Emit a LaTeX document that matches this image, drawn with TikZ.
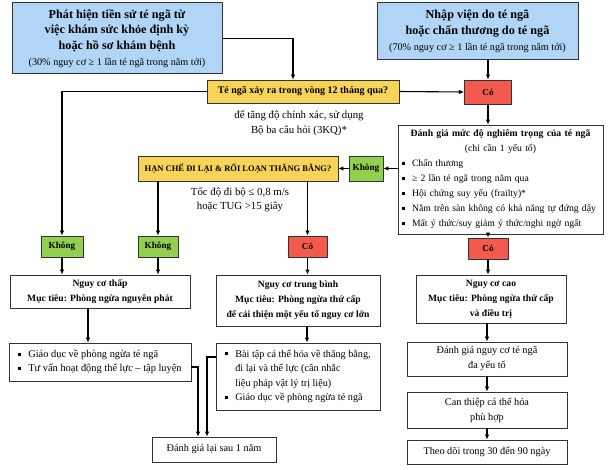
\documentclass[tikz,border=0pt]{standalone}
\usepackage{fontspec}
\setmainfont{Liberation Serif}
\usetikzlibrary{arrows.meta,calc}
\definecolor{blueb}{HTML}{B0D5F7}
\definecolor{yel}{HTML}{F7D458}
\definecolor{redb}{HTML}{F3594D}
\definecolor{grn}{HTML}{93D050}
\definecolor{edge}{HTML}{333333}
\newcommand{\bul}{\makebox[10pt][l]{\rule[2pt]{3pt}{3pt}}}
\newcommand{\ind}{\hspace*{10pt}}
\newcommand{\subline}[1]{{\mdseries\fontsize{10.2}{13}\selectfont #1}}
\tikzset{
  bx/.style={draw=edge, line width=0.8pt, fill=white, inner sep=1pt, align=center, font=\fontsize{10.3}{15}\selectfont},
  bluebox/.style={bx, fill=blueb, line width=1pt, font=\fontsize{12.2}{15.8}\selectfont\bfseries},
  yelbox/.style={bx, fill=yel},
  redbox/.style={bx, fill=redb, font=\fontsize{9.2}{11}\selectfont\bfseries},
  grnbox/.style={bx, fill=grn, font=\fontsize{9.2}{11}\selectfont\bfseries},
  plain/.style={inner sep=0pt, align=center, font=\fontsize{10.8}{14.5}\selectfont},
  riskbox/.style={bx, font=\fontsize{9.6}{15}\selectfont\bfseries},
  arr/.style={line width=1.1pt, draw=black, -{Latex[length=5pt,width=4.5pt]}}
}
\begin{document}
\begin{tikzpicture}[x=1pt,y=-1pt]
\useasboundingbox[fill=white] (0,0) rectangle (610,470);

\node[bluebox, minimum width=210, minimum height=71] (blueL) at (117,38.5)
 {Phát hiện tiền sử té ngã từ\\việc khám sức khỏe định kỳ\\hoặc hồ sơ khám bệnh\\\subline{(30\% nguy cơ ≥ 1 lần té ngã trong năm tới)}};
\node[bluebox, minimum width=201, minimum height=57] (blueR) at (477.5,31.5)
 {Nhập viện do té ngã\\hoặc chấn thương do té ngã\\\subline{(70\% nguy cơ ≥ 1 lần té ngã trong năm tới)}};

\node[yelbox, minimum width=192, minimum height=23, font=\fontsize{10}{11}\selectfont\bfseries] (yellow1) at (303,91.5) {Té ngã xảy ra trong vòng 12 tháng qua?};
\node[redbox, minimum width=47, minimum height=24] (red1) at (488,92) {Có};
\node[plain] (txt1) at (299,123) {để tăng độ chính xác, sử dụng\\Bộ ba câu hỏi (3KQ)*};

\node[bx, minimum width=205, minimum height=109, text width=197, align=left, font=\fontsize{9.7}{15}\selectfont] (assess) at (500.5,179.5)
 {{\centering\textbf{Đánh giá mức độ nghiêm trọng của té ngã}\\(chỉ cần 1 yếu tố)\par}
 \bul Chấn thương\\
 \bul ≥ 2 lần té ngã trong năm qua\\
 \bul Hội chứng suy yếu (frailty)*\\
 \bul Nằm trên sàn không có khả năng tự đứng dậy\\
 \bul Mất ý thức/suy giảm ý thức/nghi ngờ ngất};

\node[grnbox, minimum width=34, minimum height=25] (k1) at (366,168.5) {Không};
\node[yelbox, minimum width=200, minimum height=25, font=\fontsize{8.5}{10}\selectfont\bfseries] (yellow2) at (238,168.5) {HẠN CHẾ ĐI LẠI \& RỐI LOẠN THĂNG BẰNG?};
\node[plain] (txt2) at (240,200) {Tốc độ đi bộ ≤ 0,8 m/s\\hoặc TUG >15 giây};

\node[grnbox, minimum width=42, minimum height=21] (k2) at (62,246.5) {Không};
\node[grnbox, minimum width=40, minimum height=21] (k3) at (158,246.5) {Không};
\node[redbox, minimum width=39, minimum height=21] (red2) at (307.5,246.5) {Có};
\node[redbox, minimum width=40, minimum height=21] (red3) at (488,248.5) {Có};

\node[riskbox, minimum width=180, minimum height=33] (low) at (100,291.5) {Nguy cơ thấp\\Mục tiêu: Phòng ngừa nguyên phát};
\node[riskbox, minimum width=164, minimum height=51] (mid) at (298,300.5) {Nguy cơ trung bình\\Mục tiêu: Phòng ngừa thứ cấp\\để cải thiện một yếu tố nguy cơ lớn};
\node[riskbox, minimum width=150, minimum height=48] (high) at (491,299) {Nguy cơ cao\\Mục tiêu: Phòng ngừa thứ cấp\\và điều trị};

\node[bx, minimum width=182, minimum height=38, align=left, font=\fontsize{10.4}{14}\selectfont] (lowB) at (100,362)
 {\bul Giáo dục về phòng ngừa té ngã\\\bul Tư vấn hoạt động thể lực – tập luyện};
\node[bx, minimum width=164, minimum height=67, align=left, font=\fontsize{10.2}{14.5}\selectfont] (midB) at (298,376.5)
 {\bul Bài tập cá thể hóa về thăng bằng,\\\ind đi lại và thể lực (cân nhắc\\\ind liệu pháp vật lý trị liệu)\\\bul Giáo dục về phòng ngừa té ngã};
\node[bx, minimum width=124, minimum height=25] (reeval) at (214,449.5) {Đánh giá lại sau 1 năm};

\node[bx, minimum width=160, minimum height=34] (r1) at (487,359) {Đánh giá nguy cơ té ngã\\đa yếu tố};
\node[bx, minimum width=160, minimum height=36] (r2) at (487,410) {Can thiệp cá thể hóa\\phù hợp};
\node[bx, minimum width=160, minimum height=24] (r3) at (487,452) {Theo dõi trong 30 đến 90 ngày};

% connectors
\draw[arr] (blueL.east) -| ([xshift=-10pt]yellow1.north);
\draw[arr] (blueR.south -| red1.north) -- (red1.north);
\draw[arr] (yellow1.east) -- (red1.west);
\draw[arr] (yellow1.west) -| (k2.north);
\draw[arr] (red1.south) -- (assess.north -| red1.south);
\draw[arr] (assess.west |- k1.east) -- (k1.east);
\draw[arr] (k1.west) -- (yellow2.east);
\draw[arr] (yellow2.south -| k3.north) -- (k3.north);
\draw[arr] (yellow2.south -| red2.north) -- (red2.north);
\draw[arr] (assess.south -| red3.north) -- (red3.north);
\draw[arr] (red3.south) -- (high.north -| red3.south);
\draw[arr] (high.south -| r1.north) -- (r1.north);
\draw[arr] (r1.south) -- (r2.north);
\draw[arr] (r2.south) -- (r3.north);
\draw[arr] (k2.south) -- (low.north -| k2.south);
\draw[arr] (k3.south) -- (low.north -| k3.south);
\draw[arr] (red2.south) -- (mid.north -| red2.south);
\draw[arr] ([xshift=-12pt]low.south) -- ([xshift=-12pt]lowB.north);
\draw[arr] ([xshift=9pt]mid.south) -- ([xshift=9pt]midB.north);
\draw[arr] ([yshift=-5pt]lowB.east) -| ([xshift=-16pt]reeval.north);
\draw[arr] ([yshift=19.5pt]midB.west) -| ([xshift=-7pt]reeval.north);
\end{tikzpicture}
\end{document}
